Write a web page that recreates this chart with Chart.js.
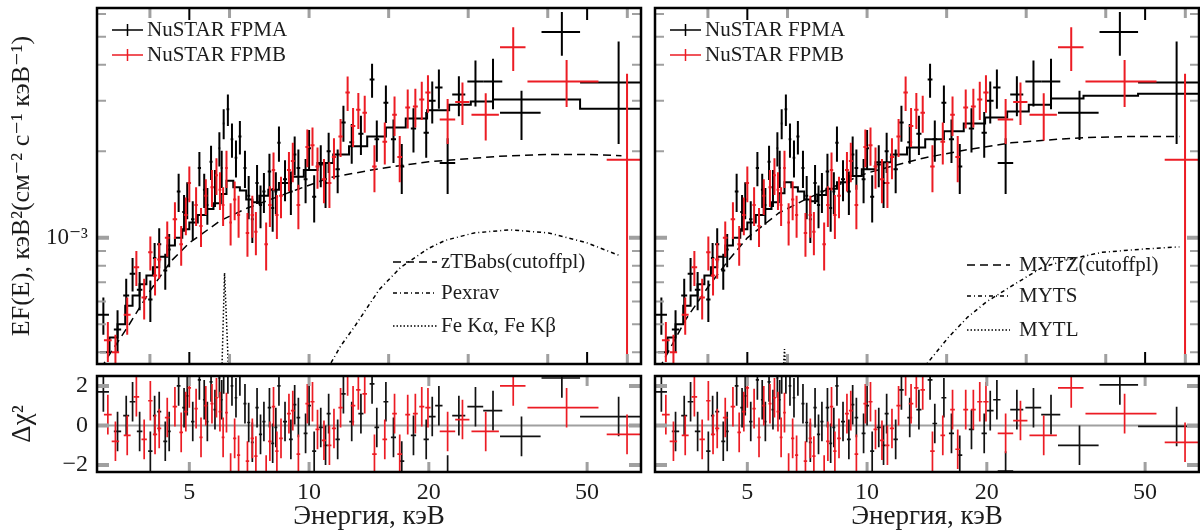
<!DOCTYPE html>
<html lang="ru">
<head>
<meta charset="UTF-8">
<title>NuSTAR spectrum</title>
<script src="https://cdn.jsdelivr.net/npm/chart.js"></script>
<style>
    html, body { margin: 0; padding: 0; background: #fff; }
    #wrap { position: relative; width: 1200px; height: 531px; overflow: hidden; }
    .box { position: absolute; }
</style>
</head>
<body>
<div id="wrap">
    <div class="box" style="left:0;top:0;width:648px;height:372px"><canvas id="specL"></canvas></div>
    <div class="box" style="left:648px;top:0;width:552px;height:372px"><canvas id="specR"></canvas></div>
    <div class="box" style="left:0;top:372px;width:648px;height:159px"><canvas id="resL"></canvas></div>
    <div class="box" style="left:648px;top:372px;width:552px;height:159px"><canvas id="resR"></canvas></div>
</div>
<script>
    // ---- данные FPMA (чёрные) ----
    var fpmaE = [3.04, 3.30, 3.47, 3.60, 3.75, 3.99, 4.09, 4.20, 4.35, 4.45,
        4.70, 4.85, 4.94, 5.10, 5.30, 5.45, 5.55, 5.67, 5.80, 5.95,
        6.03, 6.10, 6.25, 6.40, 6.55, 6.70, 6.90, 7.05, 7.20, 7.40,
        7.55, 7.70, 7.95, 8.10, 8.25, 8.40, 8.70, 9.00, 9.20, 9.40,
        9.80, 10.0, 10.3, 10.7, 11.0, 11.2, 11.8, 12.2, 12.8, 13.5,
        14.4, 14.8, 15.6, 16.3, 17.1, 18.3, 19.7, 20.4, 21.2, 22.3,
        23.8, 26.2, 29.0, 34.2, 43.2, 60.0];
    var fpmaDE = [0.10, 0.07, 0.06, 0.06, 0.06, 0.05, 0.04, 0.05, 0.05, 0.04,
        0.05, 0.05, 0.04, 0.05, 0.05, 0.04, 0.04, 0.05, 0.05, 0.04,
        0.04, 0.04, 0.05, 0.05, 0.05, 0.06, 0.06, 0.06, 0.06, 0.07,
        0.07, 0.07, 0.08, 0.07, 0.07, 0.08, 0.10, 0.10, 0.09, 0.10,
        0.11, 0.11, 0.12, 0.13, 0.13, 0.13, 0.15, 0.16, 0.18, 0.20,
        0.20, 0.20, 0.22, 0.24, 0.25, 0.28, 0.30, 0.40, 0.45, 1.0,
        0.9, 1.2, 1.6, 4.0, 4.8, 12.0];
    var fpmaF = [5.4e-4, 4.8e-4, 6.3e-4, 7.5e-4, 6.6e-4, 6.1e-4, 8.5e-4, 9.5e-4, 7.7e-4, 9.1e-4,
        1.45e-3, 1.23e-3, 1.36e-3, 1.16e-3, 1.75e-3, 1.47e-3, 1.30e-3, 1.84e-3, 1.50e-3, 2.05e-3,
        1.75e-3, 2.50e-3, 2.80e-3, 2.20e-3, 1.90e-3, 2.25e-3, 1.75e-3, 1.40e-3, 1.16e-3, 1.55e-3,
        1.30e-3, 1.45e-3, 1.70e-3, 1.27e-3, 1.45e-3, 2.14e-3, 1.60e-3, 1.45e-3, 1.95e-3, 1.75e-3,
        1.60e-3, 2.05e-3, 1.39e-3, 1.80e-3, 1.55e-3, 2.00e-3, 1.73e-3, 2.52e-3, 2.15e-3, 2.30e-3,
        3.55e-3, 2.20e-3, 2.95e-3, 2.20e-3, 1.77e-3, 2.40e-3, 2.32e-3, 3.00e-3, 3.33e-3, 1.82e-3,
        3.15e-3, 3.50e-3, 3.50e-3, 2.72e-3, 5.20e-3, 3.47e-3];
    var fpmaDF = [0.8e-4, 0.8e-4, 0.9e-4, 1.0e-4, 1.0e-4, 1.0e-4, 1.1e-4, 1.3e-4, 1.1e-4, 1.2e-4,
        2.2e-4, 1.8e-4, 2.0e-4, 1.8e-4, 2.4e-4, 2.0e-4, 1.9e-4, 2.5e-4, 2.2e-4, 2.8e-4,
        2.6e-4, 3.0e-4, 3.5e-4, 3.0e-4, 2.8e-4, 3.0e-4, 2.6e-4, 2.4e-4, 2.0e-4, 2.4e-4,
        2.2e-4, 2.3e-4, 2.6e-4, 2.2e-4, 2.4e-4, 3.0e-4, 2.6e-4, 2.5e-4, 3.0e-4, 2.8e-4,
        2.8e-4, 3.2e-4, 2.6e-4, 3.0e-4, 2.8e-4, 3.2e-4, 3.0e-4, 3.6e-4, 3.4e-4, 3.6e-4,
        4.8e-4, 3.6e-4, 4.4e-4, 3.8e-4, 3.5e-4, 4.2e-4, 4.2e-4, 5.0e-4, 5.2e-4, 4.0e-4,
        5.0e-4, 6.4e-4, 7.0e-4, 5.3e-4, 9.0e-4, 1.35e-3];
    var fpmaResL = [1.7, -0.3, 0.5, 1.2, -0.3, -1.3, 0.5, 0.7, -0.8, -0.3,
        2.0, 0.9, 1.5, 0.2, 2.3, 1.3, 0.2, 2.2, 0.8, 2.4,
        1.3, 2.6, 2.6, 2.0, 1.4, 2.5, 1.1, 0.15, -0.85, 0.9,
        -0.45, 0.2, 0.9, -0.9, -0.1, 2.0, 0.2, -0.7, 1.05, 0.4,
        -0.4, 1.0, -1.3, -0.1, -1.0, 0.6, -0.7, 1.6, 0.2, 0.6,
        2.1, -0.1, 1.2, -0.6, -1.8, -0.5, -0.7, 0.45, 1.0, -2.5,
        0.5, 0.95, 0.75, -0.55, 2.4, 0.45];
    var fpmaResR = [1.7, -0.3, 0.5, 1.2, -0.3, -1.3, 0.5, 0.7, -0.8, -0.3,
        2.0, 0.9, 1.5, 0.2, 2.3, 1.3, 0.2, 2.2, 0.8, 2.4,
        1.3, 2.6, 2.6, 2.0, 1.4, 2.5, 1.1, 0.15, -0.85, 0.9,
        -0.45, 0.2, 0.9, -0.9, -0.1, 2.0, 0.2, -0.7, 1.05, 0.4,
        -0.4, 1.0, -1.3, -0.1, -1.0, 0.6, -0.7, 1.8, 0.4, 0.8,
        2.3, 0.1, 1.4, -0.4, -1.5, -0.2, -0.4, 0.75, 1.3, -2.3,
        0.8, 0.9, 0.55, -1.0, 2.05, -0.05];

    // ---- данные FPMB (красные) ----
    var fpmbE = [3.12, 3.26, 3.49, 3.68, 3.85, 3.99, 4.10, 4.20, 4.40, 4.60,
        4.77, 4.90, 5.00, 5.20, 5.35, 5.50, 5.70, 5.85, 5.97, 6.08,
        6.20, 6.35, 6.50, 6.65, 7.00, 7.20, 7.35, 7.80, 7.97, 8.14,
        8.30, 8.50, 8.90, 9.10, 9.40, 9.90, 10.2, 10.5, 10.9, 11.25,
        11.55, 12.0, 12.5, 12.9, 13.3, 13.8, 14.6, 15.5, 16.4, 16.9,
        17.7, 18.5, 19.2, 19.9, 22.3, 24.3, 27.8, 32.6, 44.4, 63.0];
    var fpmbDE = [0.07, 0.07, 0.07, 0.06, 0.06, 0.05, 0.05, 0.05, 0.06, 0.06,
        0.05, 0.05, 0.05, 0.05, 0.05, 0.05, 0.05, 0.05, 0.05, 0.05,
        0.05, 0.05, 0.06, 0.06, 0.07, 0.07, 0.07, 0.08, 0.08, 0.08,
        0.08, 0.09, 0.10, 0.10, 0.10, 0.11, 0.12, 0.12, 0.13, 0.13,
        0.14, 0.15, 0.16, 0.17, 0.17, 0.18, 0.19, 0.21, 0.22, 0.23,
        0.25, 0.26, 0.28, 0.30, 1.0, 1.0, 2.2, 2.4, 9.0, 7.0];
    var fpmbF = [4.4e-4, 4.0e-4, 5.4e-4, 7.9e-4, 6.2e-4, 8.9e-4, 7.4e-4, 8.4e-4, 1.00e-3, 1.16e-3,
        9.5e-4, 1.20e-3, 1.55e-3, 1.30e-3, 1.10e-3, 1.40e-3, 1.50e-3, 1.65e-3, 1.47e-3, 1.30e-3,
        1.75e-3, 1.13e-3, 1.36e-3, 1.20e-3, 1.04e-3, 1.20e-3, 1.05e-3, 9.5e-4, 1.30e-3, 1.72e-3,
        1.20e-3, 1.40e-3, 1.72e-3, 1.85e-3, 1.30e-3, 2.07e-3, 2.10e-3, 1.77e-3, 1.60e-3, 1.55e-3,
        1.91e-3, 2.25e-3, 3.20e-3, 2.45e-3, 2.79e-3, 2.72e-3, 1.77e-3, 2.16e-3, 2.68e-3, 1.91e-3,
        2.84e-3, 2.86e-3, 3.03e-3, 3.20e-3, 2.58e-3, 2.97e-3, 2.68e-3, 4.60e-3, 3.50e-3, 1.87e-3];
    var fpmbDF = [0.7e-4, 0.6e-4, 0.8e-4, 1.1e-4, 1.0e-4, 1.2e-4, 1.1e-4, 1.2e-4, 1.4e-4, 1.7e-4,
        1.5e-4, 1.8e-4, 2.2e-4, 2.0e-4, 1.7e-4, 2.0e-4, 2.2e-4, 2.4e-4, 2.2e-4, 2.0e-4,
        2.6e-4, 1.9e-4, 2.1e-4, 2.0e-4, 1.8e-4, 2.0e-4, 1.8e-4, 1.8e-4, 2.1e-4, 2.6e-4,
        2.1e-4, 2.3e-4, 2.7e-4, 2.9e-4, 2.3e-4, 3.1e-4, 3.2e-4, 2.9e-4, 2.8e-4, 2.8e-4,
        3.1e-4, 3.4e-4, 4.4e-4, 3.8e-4, 4.0e-4, 4.0e-4, 3.3e-4, 3.6e-4, 4.2e-4, 3.5e-4,
        4.4e-4, 4.4e-4, 4.6e-4, 4.8e-4, 4.6e-4, 5.0e-4, 5.0e-4, 8.0e-4, 6.5e-4, 1.85e-3];
    var fpmbResL = [0.55, -0.8, -0.5, 1.45, -0.7, 1.25, -0.45, -0.15, 0.4, 0.95,
        -0.35, 0.7, 1.9, 0.85, -0.6, 1.0, 1.1, 1.4, 0.7, -0.6,
        0.65, -2.4, -0.65, -1.5, -1.8, -0.65, -1.55, -2.5, -0.8, 0.95,
        -1.3, -0.65, 0.6, 0.75, -1.45, 1.1, 1.2, -0.2, -0.75, -1.0,
        -0.15, 0.9, 2.5, 1.0, 1.8, 1.6, -1.45, -0.7, 0.6, -1.45,
        0.55, 0.6, 0.95, 0.9, -0.3, 0.3, -0.3, 2.0, 0.9, -0.45];
    var fpmbResR = [0.55, -0.8, -0.5, 1.45, -0.7, 1.25, -0.45, -0.15, 0.4, 0.95,
        -0.35, 0.7, 1.9, 0.85, -0.6, 1.0, 1.1, 1.4, 0.7, -0.6,
        0.65, -2.4, -0.65, -1.5, -1.8, -0.65, -1.55, -2.5, -0.8, 0.95,
        -1.3, -0.65, 0.6, 0.75, -1.45, 1.1, 1.2, -0.2, -0.75, -1.0,
        -0.15, 1.0, 2.5, 1.1, 1.9, 1.8, -1.3, -0.5, 0.8, -1.2,
        0.8, 0.8, 1.2, 1.2, -0.4, 0.25, -0.5, 1.9, 0.6, -0.85];

    // ---- модели ----
    var modelEdges = [2.98, 3.15, 3.3, 3.45, 3.6, 3.75, 3.9, 4.05, 4.2, 4.4,
        4.6, 4.8, 5.0, 5.25, 5.5, 5.75, 6.0, 6.2, 6.45, 6.7,
        6.95, 7.2, 7.5, 7.9, 8.4, 9.0, 9.7, 10.5, 11.5, 12.6,
        14.0, 15.6, 17.5, 19.8, 22.5, 25.5, 29.0, 35.0, 48.0, 68.3];
    var totalL = [4.0e-4, 4.5e-4, 5.0e-4, 5.8e-4, 6.3e-4, 6.9e-4, 7.4e-4, 7.9e-4, 8.6e-4, 9.4e-4,
        1.0e-3, 1.07e-3, 1.13e-3, 1.2e-3, 1.26e-3, 1.32e-3, 1.42e-3, 1.58e-3, 1.5e-3, 1.46e-3,
        1.36e-3, 1.33e-3, 1.40e-3, 1.47e-3, 1.55e-3, 1.63e-3, 1.72e-3, 1.82e-3, 1.95e-3, 2.08e-3,
        2.25e-3, 2.42e-3, 2.6e-3, 2.78e-3, 2.9e-3, 2.98e-3, 3.03e-3, 3.03e-3, 2.81e-3, 2.81e-3];
    var totalR = [4.0e-4, 4.5e-4, 5.0e-4, 5.8e-4, 6.3e-4, 6.9e-4, 7.4e-4, 7.9e-4, 8.6e-4, 9.4e-4,
        1.0e-3, 1.07e-3, 1.13e-3, 1.2e-3, 1.26e-3, 1.33e-3, 1.43e-3, 1.56e-3, 1.5e-3, 1.45e-3,
        1.36e-3, 1.34e-3, 1.41e-3, 1.48e-3, 1.56e-3, 1.64e-3, 1.73e-3, 1.83e-3, 1.95e-3, 2.06e-3,
        2.2e-3, 2.35e-3, 2.5e-3, 2.62e-3, 2.75e-3, 2.9e-3, 3.05e-3, 3.12e-3, 3.17e-3, 3.17e-3];

    var cutoffE = [3.0, 3.1, 3.5, 4.0, 4.5, 5.0, 6.0, 7.0, 8.0, 9.3, 11.3, 15.0, 20.0, 30.0, 40.0, 50.0, 61.0];
    var cutoffF = [3.5e-4, 3.8e-4, 4.9e-4, 6.6e-4, 8.3e-4, 9.6e-4, 1.15e-3, 1.27e-3, 1.36e-3, 1.47e-3, 1.62e-3, 1.74e-3, 1.84e-3, 1.92e-3, 1.95e-3, 1.95e-3, 1.93e-3];
    var pexravE = [11.0, 12.0, 13.0, 15.0, 17.0, 20.0, 22.0, 26.0, 32.0, 40.0, 50.0, 60.0];
    var pexravF = [3.4e-4, 4.2e-4, 4.9e-4, 6.6e-4, 7.9e-4, 9.2e-4, 9.8e-4, 1.04e-3, 1.066e-3, 1.04e-3, 9.6e-4, 8.7e-4];
    var feLineE = [6.02, 6.13, 6.30];
    var feLineF = [3.0e-4, 7.55e-4, 3.0e-4];

    var mytzE = [3.0, 3.5, 4.0, 4.5, 5.0, 6.0, 7.0, 8.0, 10.0, 12.0, 14.0, 18.0, 23.0, 30.0, 35.0, 45.0, 61.0];
    var mytzF = [3.5e-4, 5.2e-4, 6.8e-4, 8.4e-4, 1.0e-3, 1.22e-3, 1.36e-3, 1.48e-3, 1.68e-3, 1.8e-3, 1.9e-3, 2.03e-3, 2.14e-3, 2.2e-3, 2.23e-3, 2.25e-3, 2.25e-3];
    var mytsE = [13.8, 16.0, 17.9, 20.0, 22.9, 27.6, 32.0, 38.9, 50.0, 61.0];
    var mytsF = [3.5e-4, 4.5e-4, 5.3e-4, 6.0e-4, 6.75e-4, 7.9e-4, 8.4e-4, 8.9e-4, 9.15e-4, 9.3e-4];
    var mytlE = [6.12, 6.20, 6.28];
    var mytlF = [3.0e-4, 4.1e-4, 3.0e-4];

    // ---- оси ----
    var energyMin = 2.93, energyMax = 68.3;
    var fluxMin = 3.64e-4, fluxMax = 6.3e-3;
    var resMin = -2.35, resMax = 2.5;
    var energyTicks = [5, 10, 20, 50];
    var energyMinorTicks = [3.98, 6.31, 10, 15.85, 25.12, 39.81, 63.1];
    var energyDarkTicks = [5, 50];
    var fluxMinorTicks = [4e-4, 5e-4, 6e-4, 7e-4, 8e-4, 9e-4, 2e-3, 3e-3, 4e-3, 5e-3, 6e-3];
    var fluxMajorTicks = [1e-3];
    var resTicks = [-2, 0, 2];

    var SERIF = "'Liberation Serif', 'Times New Roman', 'DejaVu Serif', serif";
    var TXT = '#1c1c1c';
    var RED = 'rgb(236,28,36)';
    var GRAY = '#a0a0a0';

    function pts(xs, ys) {
        return xs.map(function(x, i) { return {x: x, y: ys[i]}; });
    }
    function errPts(xs, dxs, ys, dys) {
        return xs.map(function(x, i) { return {x: x, y: ys[i], xerr: dxs[i], yerr: dys[i]}; });
    }
    function resPts(xs, dxs, ys) {
        return xs.map(function(x, i) { return {x: x, y: ys[i], xerr: dxs[i], yerr: 1}; });
    }

    // кресты ошибок
    var errorBarPlugin = {
        id: 'errorBars',
        afterDatasetsDraw: function(chart) {
            var ctx = chart.ctx, xs = chart.scales.x, ys = chart.scales.y, a = chart.chartArea;
            ctx.save();
            ctx.beginPath();
            ctx.rect(a.left, a.top, a.right - a.left, a.bottom - a.top);
            ctx.clip();
            chart.data.datasets.forEach(function(ds) {
                if (!ds.errorBars) return;
                ctx.strokeStyle = ds.borderColor;
                ctx.lineWidth = ds.barWidth;
                ds.data.forEach(function(p) {
                    var x = xs.getPixelForValue(p.x), y = ys.getPixelForValue(p.y);
                    var x0 = xs.getPixelForValue(p.x - p.xerr), x1 = xs.getPixelForValue(p.x + p.xerr);
                    var lo = p.y - p.yerr;
                    var y0 = (ys.type === 'logarithmic' && lo <= 0) ? a.bottom + 20 : ys.getPixelForValue(lo);
                    var y1 = ys.getPixelForValue(p.y + p.yerr);
                    ctx.beginPath();
                    ctx.moveTo(x0, y); ctx.lineTo(x1, y);
                    ctx.moveTo(x, y0); ctx.lineTo(x, y1);
                    ctx.stroke();
                });
            });
            ctx.restore();
        }
    };

    // рамка, внутренние засечки, нулевая линия, легенды
    var framePlugin = {
        id: 'frame',
        beforeDatasetsDraw: function(chart, args, opts) {
            if (!opts.zeroLine) return;
            var ctx = chart.ctx, a = chart.chartArea, y = chart.scales.y.getPixelForValue(0);
            ctx.save();
            ctx.strokeStyle = GRAY; ctx.lineWidth = 2;
            ctx.beginPath(); ctx.moveTo(a.left, y); ctx.lineTo(a.right, y); ctx.stroke();
            ctx.restore();
        },
        afterDraw: function(chart, args, opts) {
            var ctx = chart.ctx, a = chart.chartArea, xs = chart.scales.x, ys = chart.scales.y;
            ctx.save();
            function tickX(v, len, w, col) {
                var px = xs.getPixelForValue(v);
                ctx.strokeStyle = col; ctx.lineWidth = w;
                ctx.beginPath();
                ctx.moveTo(px, a.top); ctx.lineTo(px, a.top + len);
                ctx.moveTo(px, a.bottom); ctx.lineTo(px, a.bottom - len);
                ctx.stroke();
            }
            function tickY(v, len, w, col) {
                var py = ys.getPixelForValue(v);
                ctx.strokeStyle = col; ctx.lineWidth = w;
                ctx.beginPath();
                ctx.moveTo(a.left, py); ctx.lineTo(a.left + len, py);
                ctx.moveTo(a.right, py); ctx.lineTo(a.right - len, py);
                ctx.stroke();
            }
            (opts.xGray || []).forEach(function(v) { tickX(v, 10, 3, GRAY); });
            (opts.xDark || []).forEach(function(v) { tickX(v, 12, 2, '#000'); });
            (opts.yMinor || []).forEach(function(v) { tickY(v, 9, 2, GRAY); });
            (opts.yMajor || []).forEach(function(v) { tickY(v, 12, 4, GRAY); });

            ctx.strokeStyle = '#000'; ctx.lineWidth = 2.5;
            ctx.strokeRect(a.left, a.top, a.right - a.left, a.bottom - a.top);

            ctx.font = '21px ' + SERIF;
            ctx.textBaseline = 'middle';
            ctx.fillStyle = TXT;
            (opts.legend || []).forEach(function(it) {
                var y = a.top + it.y;
                ctx.save();
                ctx.strokeStyle = it.color; ctx.lineWidth = it.width || 1.5;
                ctx.setLineDash(it.dash || []);
                ctx.beginPath();
                ctx.moveTo(a.left + it.x0, y); ctx.lineTo(a.left + it.x1, y);
                if (it.cross) {
                    var cx = (it.x0 + it.x1) / 2 + a.left;
                    ctx.moveTo(cx, y - 6); ctx.lineTo(cx, y + 6);
                }
                ctx.stroke();
                ctx.restore();
                ctx.fillText(it.text, a.left + it.tx, y);
            });
            ctx.restore();
        }
    };

    var dataLegend = [
        {text: 'NuSTAR FPMA', x0: 15, x1: 46, tx: 50, y: 22, color: '#000', cross: true},
        {text: 'NuSTAR FPMB', x0: 15, x1: 46, tx: 50, y: 47, color: RED, cross: true}
    ];

    function errSets(resid, side) {
        if (resid) {
            return [
                {label: 'FPMA', data: resPts(fpmaE, fpmaDE, side === 'L' ? fpmaResL : fpmaResR), errorBars: true, barWidth: 1.7, borderColor: '#111', showLine: false, pointRadius: 0},
                {label: 'FPMB', data: resPts(fpmbE, fpmbDE, side === 'L' ? fpmbResL : fpmbResR), errorBars: true, barWidth: 1.7, borderColor: RED, showLine: false, pointRadius: 0}
            ];
        }
        return [
            {label: 'FPMA', data: errPts(fpmaE, fpmaDE, fpmaF, fpmaDF), errorBars: true, barWidth: 2, borderColor: '#000', showLine: false, pointRadius: 0},
            {label: 'FPMB', data: errPts(fpmbE, fpmbDE, fpmbF, fpmbDF), errorBars: true, barWidth: 2, borderColor: RED, showLine: false, pointRadius: 0}
        ];
    }

    function lineSet(xs, ys, dash, width, stepped) {
        return {data: pts(xs, ys), borderColor: '#000', borderWidth: width, borderDash: dash,
            pointRadius: 0, fill: false, tension: 0, stepped: stepped || false};
    }

    function xScale(showLabels) {
        var s = {
            type: 'logarithmic', min: energyMin, max: energyMax,
            display: showLabels,
            grid: {display: false, drawTicks: false},
            border: {display: false}
        };
        if (showLabels) {
            s.afterBuildTicks = function(sc) { sc.ticks = energyTicks.map(function(v) { return {value: v}; }); };
            s.afterFit = function(sc) { sc.height = 59; sc.paddingLeft = 0; sc.paddingRight = 0; };
            s.ticks = {font: {family: SERIF, size: 24}, color: TXT, padding: 6, maxRotation: 0, autoSkip: false,
                callback: function(v) { return String(v); }};
            s.title = {display: true, text: 'Энергия, кэВ', font: {family: SERIF, size: 27, lineHeight: 1}, color: TXT, padding: {top: 0, bottom: 1}};
        }
        return s;
    }

    function makeChart(id, sets, yScale, padding, frameOpts) {
        return new Chart(document.getElementById(id), {
            type: 'line',
            data: {datasets: sets},
            options: {
                responsive: true,
                maintainAspectRatio: false,
                animation: false,
                events: [],
                layout: {padding: padding, autoPadding: false},
                scales: {x: xScale(frameOpts.xLabels), y: yScale},
                plugins: {legend: {display: false}, tooltip: {enabled: false}, frame: frameOpts}
            },
            plugins: [errorBarPlugin, framePlugin]
        });
    }

    function specY(showLabels) {
        var s = {type: 'logarithmic', min: fluxMin, max: fluxMax, display: showLabels,
            grid: {display: false, drawTicks: false}, border: {display: false}};
        if (showLabels) {
            s.afterBuildTicks = function(sc) { sc.ticks = fluxMajorTicks.map(function(v) { return {value: v}; }); };
            s.afterFit = function(sc) { sc.width = 97; sc.paddingTop = 0; sc.paddingBottom = 0; };
            s.ticks = {font: {family: SERIF, size: 23}, color: TXT, padding: 9, callback: function() { return '10⁻³'; }};
            s.title = {display: true, text: 'EF(E), кэВ²(см⁻² с⁻¹ кэВ⁻¹)', font: {family: SERIF, size: 26, lineHeight: 1}, color: TXT, padding: {top: 9, bottom: 0}};
        }
        return s;
    }

    function resY(showLabels) {
        var s = {min: resMin, max: resMax, display: showLabels,
            grid: {display: false, drawTicks: false}, border: {display: false}};
        if (showLabels) {
            s.afterBuildTicks = function(sc) { sc.ticks = resTicks.map(function(v) { return {value: v}; }); };
            s.afterFit = function(sc) { sc.width = 97; sc.paddingTop = 0; sc.paddingBottom = 0; };
            s.ticks = {font: {family: SERIF, size: 24}, color: TXT, padding: 9, callback: function(v) { return v < 0 ? '−' + Math.abs(v) : String(v); }};
            s.title = {display: true, text: 'Δχ²', font: {family: SERIF, size: 27, lineHeight: 1}, color: TXT, padding: {top: 9, bottom: 0}};
        }
        return s;
    }

    // левая панель: zTBabs(cutoffpl) + Pexrav + Fe
    makeChart('specL',
        errSets(false).concat([
            lineSet(modelEdges, totalL, [], 2, 'before'),
            lineSet(cutoffE, cutoffF, [8, 5], 1.5),
            lineSet(pexravE, pexravF, [4, 3, 1, 3], 1.5),
            lineSet(feLineE, feLineF, [1.5, 2], 1.5)
        ]),
        specY(true), {top: 8, right: 7, bottom: 8, left: 0},
        {xLabels: false, xGray: energyMinorTicks, xDark: energyDarkTicks, yMinor: fluxMinorTicks, yMajor: fluxMajorTicks,
            legend: dataLegend.concat([
                {text: 'zTBabs(cutoffpl)', x0: 296, x1: 340, tx: 344, y: 254, color: '#000', dash: [8, 5]},
                {text: 'Pexrav', x0: 296, x1: 340, tx: 344, y: 285, color: '#000', dash: [4, 3, 1, 3]},
                {text: 'Fe Kα, Fe Kβ', x0: 296, x1: 340, tx: 344, y: 318, color: '#000', dash: [1.5, 2]}
            ])});

    // правая панель: MYTorus
    makeChart('specR',
        errSets(false).concat([
            lineSet(modelEdges, totalR, [], 2, 'before'),
            lineSet(mytzE, mytzF, [8, 5], 1.5),
            lineSet(mytsE, mytsF, [4, 3, 1, 3], 1.5),
            lineSet(mytlE, mytlF, [1.5, 2], 1.5)
        ]),
        specY(false), {top: 8, right: 1, bottom: 8, left: 7},
        {xLabels: false, xGray: energyMinorTicks, xDark: energyDarkTicks, yMinor: fluxMinorTicks, yMajor: fluxMajorTicks,
            legend: dataLegend.concat([
                {text: 'MYTZ(cutoffpl)', x0: 312, x1: 355, tx: 364, y: 257, color: '#000', dash: [8, 5]},
                {text: 'MYTS', x0: 312, x1: 355, tx: 364, y: 288, color: '#000', dash: [4, 3, 1, 3]},
                {text: 'MYTL', x0: 312, x1: 355, tx: 364, y: 322, color: '#000', dash: [1.5, 2]}
            ])});

    // остатки
    makeChart('resL', errSets(true, 'L'), resY(true), {top: 4, right: 7, bottom: 0, left: 0},
        {xLabels: true, zeroLine: true, xGray: energyTicks, yMajor: resTicks});
    makeChart('resR', errSets(true, 'R'), resY(false), {top: 4, right: 1, bottom: 0, left: 7},
        {xLabels: true, zeroLine: true, xGray: energyTicks, yMajor: resTicks});
</script>
</body>
</html>
